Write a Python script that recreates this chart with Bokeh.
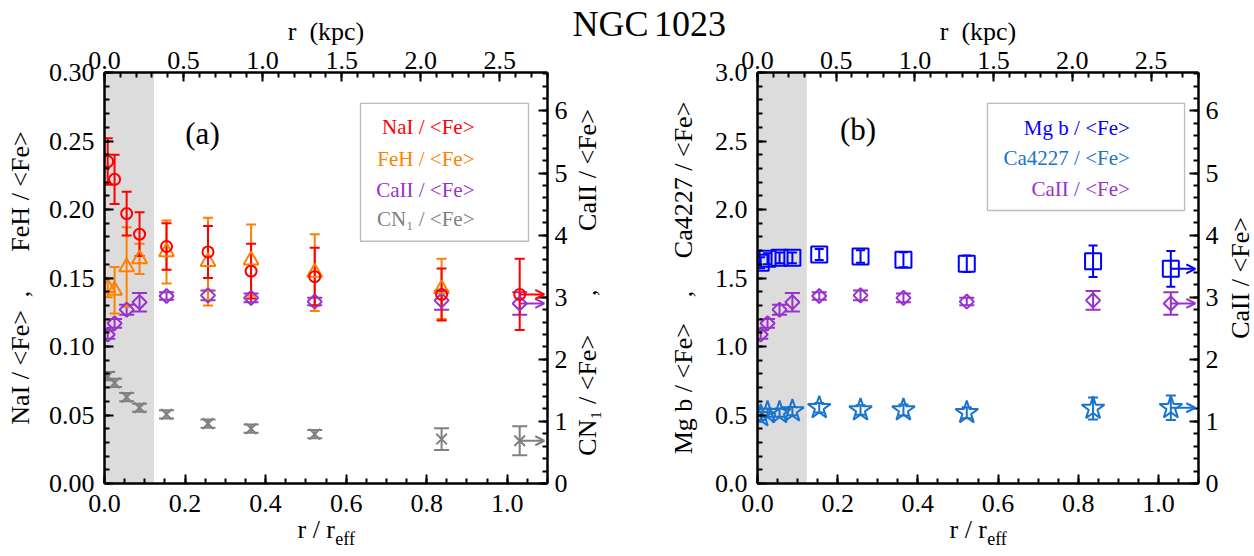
import math
from bokeh.plotting import figure
from bokeh.models import (Range1d, LinearAxis, FixedTicker, PrintfTickFormatter,
                          ColumnDataSource, Whisker, TeeHead, Arrow, OpenHead,
                          BoxAnnotation, Label)
from bokeh.layouts import row
from bokeh.embed import file_html
from bokeh.resources import INLINE

# ---------------- data ----------------
r_reff = [0.008, 0.025, 0.055, 0.087, 0.154, 0.257, 0.364, 0.522, 0.837, 1.031]
kpc_per_reff = 2.547
seeing_reff = 0.123

nai = [0.235, 0.222, 0.197, 0.182, 0.173, 0.169, 0.155, 0.151, 0.138, 0.138]
nai_err = [0.017, 0.018, 0.016, 0.016, 0.017, 0.019, 0.020, 0.021, 0.019, 0.026]

feh = [0.143, 0.141, 0.158, 0.164, 0.169, 0.162, 0.163, 0.154, 0.142]
feh_err = [0.007, 0.017, 0.029, 0.011, 0.023, 0.032, 0.026, 0.028, 0.022]

caii = [2.40, 2.58, 2.80, 2.92, 3.02, 3.03, 2.99, 2.93, 2.95, 2.90]
caii_err = [0.07, 0.07, 0.08, 0.15, 0.06, 0.08, 0.07, 0.06, 0.15, 0.18]

cn1 = [0.0783, 0.0734, 0.0630, 0.0553, 0.0505, 0.0437, 0.0400, 0.0360, 0.0324, 0.0312]
cn1_err = [0.003, 0.003, 0.003, 0.003, 0.003, 0.003, 0.003, 0.003, 0.008, 0.0105]

mgb = [1.611, 1.640, 1.647, 1.647, 1.672, 1.657, 1.633, 1.604, 1.623, 1.567]
mgb_err = [0.04, 0.04, 0.04, 0.04, 0.04, 0.045, 0.055, 0.06, 0.115, 0.13]

ca4227 = [0.493, 0.517, 0.517, 0.529, 0.553, 0.536, 0.536, 0.517, 0.548, 0.553]
ca4227_err = [0.03, 0.03, 0.03, 0.03, 0.035, 0.035, 0.04, 0.04, 0.08, 0.09]

# ---------------- styling / layout ----------------
FONT = "Liberation Serif"
RED, ORANGE, PURPLE, GRAY = "#FF0000", "#FF8000", "#9932CC", "#808080"
BLUE, SKY = "#0000FF", "#1874CD"
XMAX = 1.1
RMAX = 6.62
FW, FH = 443, 414
H = 556
TOP, BOTTOM = 69, 73
NB = "\u00a0"


def ticks(stop, step):
    n = int(round(stop / step))
    return [round(i * step, 6) for i in range(n + 1)]


def style(ax, standoff, label="", lsize="26px", lstandoff=5):
    ax.axis_line_width = 2.5
    ax.axis_line_color = "black"
    ax.major_tick_in = 9
    ax.major_tick_out = 0
    ax.minor_tick_in = 5
    ax.minor_tick_out = 0
    ax.major_tick_line_width = 2
    ax.minor_tick_line_width = 2
    ax.major_label_text_font = FONT
    ax.major_label_text_font_size = "26px"
    ax.major_label_text_color = "black"
    ax.major_label_standoff = standoff
    ax.axis_label = label if label else None
    ax.axis_label_text_font = FONT
    ax.axis_label_text_font_size = lsize
    ax.axis_label_text_font_style = "normal"
    ax.axis_label_text_color = "black"
    ax.axis_label_standoff = lstandoff
    return ax


def hide(ax):
    ax.axis_line_color = None
    ax.major_tick_line_color = None
    ax.minor_tick_line_color = None
    ax.major_tick_in = 0
    ax.major_tick_out = 0
    ax.minor_tick_in = 0
    ax.minor_tick_out = 0
    return ax


def bare(tick, label, size, standoff, **kw):
    """An axis without line or ticks whose single tick label carries a text."""
    ax = hide(LinearAxis(ticker=FixedTicker(ticks=[tick], minor_ticks=[]),
                         major_label_overrides={tick: label}, **kw))
    ax.major_label_text_font = FONT
    ax.major_label_text_font_size = size
    ax.major_label_text_color = "black"
    ax.major_label_standoff = standoff
    return ax


def make_panel(width, bl, br, ymax, ystep, yminor, yfmt, left_label, left_standoff,
               right_label, right_start, title_tick, title_label):
    p = figure(width=width, height=H, x_range=Range1d(0, XMAX), y_range=Range1d(0, ymax),
               output_backend="svg", toolbar_location=None, x_axis_type=None, y_axis_type=None,
               min_border_left=bl, min_border_right=br, min_border_top=TOP,
               min_border_bottom=BOTTOM)
    p.title.visible = False
    p.outline_line_color = None
    p.background_fill_color = "white"
    p.border_fill_color = "white"
    p.extra_x_ranges = {"kpc": Range1d(0, XMAX * kpc_per_reff)}
    p.extra_y_ranges = {"right": Range1d(0, RMAX)}

    below = style(LinearAxis(ticker=FixedTicker(ticks=ticks(1.0, 0.2), minor_ticks=ticks(1.1, 0.05)),
                             formatter=PrintfTickFormatter(format="%.1f")), 11,
                  "r" + NB + "/" + NB + "r" + NB * 3, "26px", 0)
    sub = bare(0.5975, "eff", "18px", -18)

    above = style(LinearAxis(x_range_name="kpc",
                             ticker=FixedTicker(ticks=ticks(2.5, 0.5), minor_ticks=ticks(2.8, 0.1)),
                             formatter=PrintfTickFormatter(format="%.1f")), 4,
                  "r" + NB * 2 + "(kpc)", "26px", 3)
    ttl = bare(title_tick, title_label, "36px", -30)

    left = style(LinearAxis(ticker=FixedTicker(ticks=ticks(ymax, ystep), minor_ticks=ticks(ymax, yminor)),
                            formatter=PrintfTickFormatter(format=yfmt)), 10,
                 left_label, "26px", left_standoff)
    right = style(LinearAxis(y_range_name="right",
                             ticker=FixedTicker(ticks=ticks(6, 1), minor_ticks=ticks(6.6, 0.2)),
                             formatter=PrintfTickFormatter(format="%d")), 7)

    p.add_layout(below, "below")
    p.add_layout(sub, "below")
    p.add_layout(above, "above")
    p.add_layout(ttl, "above")
    p.add_layout(left, "left")
    p.add_layout(right, "right")
    if right_label:
        rlab = bare(right_start, right_label, "26px", 17, y_range_name="right")
        rlab.major_label_orientation = math.pi / 2
        p.add_layout(rlab, "right")

    p.add_layout(BoxAnnotation(left=0, right=seeing_reff, fill_color="#DCDCDC", fill_alpha=1,
                               line_color=None, level="underlay"))

    def X(px):
        return XMAX * px / FW

    def Y(py):
        return ymax * (1 - py / FH)

    return p, X, Y


def series(p, x, y, err, color, marker, size, cap, rname="default", angle=0.0, arrow=False):
    lo = [a - e for a, e in zip(y, err)]
    hi = [a + e for a, e in zip(y, err)]
    src = ColumnDataSource(dict(x=x[:len(y)], y=y, lo=lo, hi=hi))
    p.add_layout(Whisker(source=src, base="x", upper="hi", lower="lo", dimension="height",
                         line_color=color, line_width=2, y_range_name=rname,
                         upper_head=TeeHead(size=cap, line_color=color, line_width=2),
                         lower_head=TeeHead(size=cap, line_color=color, line_width=2)))
    p.scatter("x", "y", source=src, marker=marker, size=size, angle=angle,
              fill_color=None, line_color=color, line_width=2, y_range_name=rname)
    if arrow:
        p.add_layout(Arrow(x_start=x[len(y) - 1], y_start=y[-1], x_end=1.092, y_end=y[-1],
                           line_color=color, line_width=2, y_range_name=rname,
                           end=OpenHead(size=9, line_color=color, line_width=2)))


def text(p, x, y, s, size, color="black", align="center", baseline="middle"):
    p.add_layout(Label(x=x, y=y, text=s, text_font=FONT, text_font_size=size,
                       text_color=color, text_align=align, text_baseline=baseline))


def legend(p, X, Y, box, xtext, xmark, rows):
    l, r, t, b = box
    p.add_layout(BoxAnnotation(left=X(l), right=X(r), top=Y(t), bottom=Y(b),
                               fill_color="white", fill_alpha=1, line_color="#222222",
                               line_width=1.3))
    for (ry, s, color, marker, size, angle) in rows:
        text(p, X(xtext), Y(ry), s, "21px", color, align="right")
        p.scatter([X(xmark)], [Y(ry)], marker=marker, size=size, angle=angle,
                  fill_color=None, line_color=color, line_width=2)


# ---------------- panel (a) ----------------
p1, X1, Y1 = make_panel(
    652, 104, 105, 0.30, 0.05, 0.01, "%.2f",
    "NaI / <Fe>" + NB * 2 + "," + NB * 6 + "FeH / <Fe>", 11,
    "CN\u2081 / <Fe>" + NB * 6 + "," + NB * 9 + "CaII / <Fe>", 0.448,
    XMAX * 0.9999, NB * 14 + "NGC")
series(p1, r_reff, cn1, cn1_err, GRAY, "x", 15, 15, arrow=True)
series(p1, r_reff, caii, caii_err, PURPLE, "square", 10, 15, rname="right",
       angle=math.pi / 4, arrow=True)
series(p1, r_reff, feh, feh_err, ORANGE, "triangle", 15, 10)
series(p1, r_reff, nai, nai_err, RED, "circle", 11, 10, arrow=True)

legend(p1, X1, Y1, (256, 424, 31, 170), 370, 395, [
    (55, "NaI / <Fe>", RED, "circle", 11, 0.0),
    (87, "FeH / <Fe>", ORANGE, "triangle", 15, 0.0),
    (118, "CaII / <Fe>", PURPLE, "square", 10, math.pi / 4),
    (148, "CN\u2081 / <Fe>", GRAY, "x", 14, 0.0),
])
text(p1, X1(98), Y1(61), "(a)", "31px")

# ---------------- panel (b) ----------------
p2, X2, Y2 = make_panel(
    569, 105, 21, 3.0, 0.5, 0.1, "%.1f",
    "Mg b / <Fe>" + NB * 4 + "," + NB * 5 + "Ca4227 / <Fe>", 14,
    None, None,
    XMAX * 0.0001, "1023" + NB * 15)
series(p2, r_reff, ca4227, ca4227_err, SKY, "star", 24, 10, arrow=True)
series(p2, r_reff, caii, caii_err, PURPLE, "square", 10, 15, rname="right",
       angle=math.pi / 4, arrow=True)
series(p2, r_reff, mgb, mgb_err, BLUE, "square", 16, 9, arrow=True)

legend(p2, X2, Y2, (231, 429, 31, 139), 374, 400, [
    (56, "Mg b / <Fe>", BLUE, "square", 16, 0.0),
    (86, "Ca4227 / <Fe>", SKY, "star", 24, 0.0),
    (117, "CaII / <Fe>", PURPLE, "square", 10, math.pi / 4),
])
text(p2, X2(101), Y2(57), "(b)", "31px")

# ---------------- right-hand title of panel (b) ----------------
p3 = figure(width=33, height=H, x_range=Range1d(0, 1), y_range=Range1d(0, RMAX),
            output_backend="svg", toolbar_location=None, x_axis_type=None, y_axis_type=None,
            min_border_left=31, min_border_right=0, min_border_top=TOP,
            min_border_bottom=BOTTOM)
p3.title.visible = False
p3.outline_line_color = None
p3.background_fill_color = "white"
p3.border_fill_color = "white"
lab3 = hide(LinearAxis(ticker=FixedTicker(ticks=[], minor_ticks=[])))
lab3.major_label_standoff = 0
lab3.axis_label = "CaII / <Fe>"
lab3.axis_label_text_font = FONT
lab3.axis_label_text_font_size = "26px"
lab3.axis_label_text_font_style = "normal"
lab3.axis_label_text_color = "black"
lab3.axis_label_standoff = -2
p3.add_layout(lab3, "left")

layout = row(p1, p2, p3, spacing=0)
open("out.html", "w").write(file_html(layout, INLINE))
